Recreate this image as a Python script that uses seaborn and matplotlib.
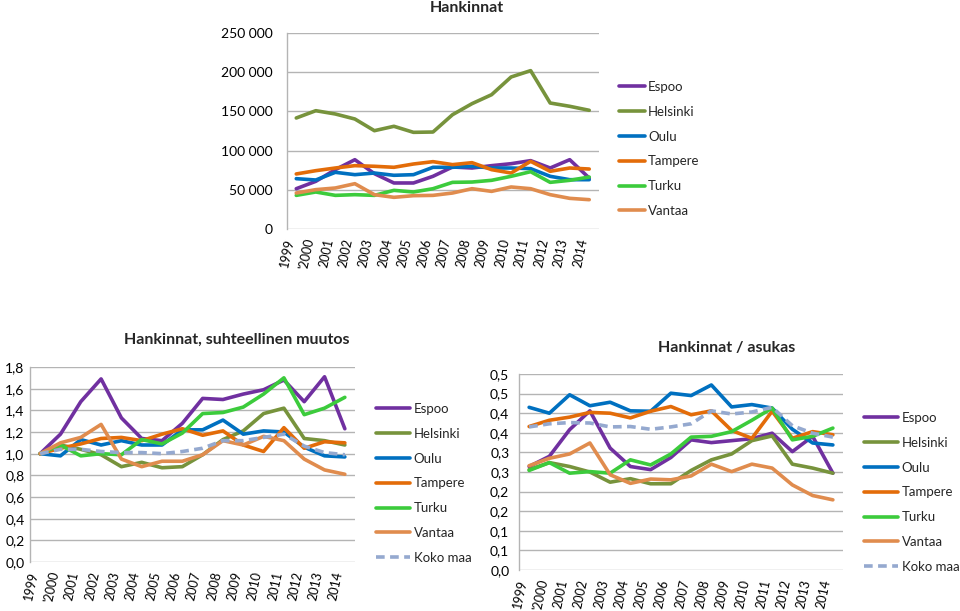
"""Hankinnat: three line charts (absolute, relative change, per resident)."""

import matplotlib

matplotlib.use("Agg")

import matplotlib.pyplot as plt
import pandas as pd
import seaborn as sns
from matplotlib.transforms import ScaledTranslation

YEARS = ["1999", "'2000", "2001", "2002", "2003", "2004", "2005", "2006",
         "2007", "2008", "2009", "2010", "2011", "2012", "2013", "2014"]

# Hankinnat (absolute)
ABS_ESPOO = [51400, 60800, 75700, 88400, 70600, 58700, 58700, 67200,
             79100, 77800, 80800, 83300, 87200, 77800, 88400, 65000]
ABS_HELSINKI = [141600, 150900, 146700, 140300, 125400, 131000, 123300, 123700,
                145800, 159900, 171300, 193900, 202000, 160700, 156500, 151400]
ABS_OULU = [64200, 62500, 72300, 69300, 71400, 68500, 69300, 78700,
            78700, 80000, 77800, 77800, 77000, 67200, 62900, 62900]
ABS_TAMPERE = [70200, 74400, 77800, 80800, 80000, 78700, 82900, 85900,
               82100, 84600, 75700, 71400, 86300, 73600, 77800, 76500]
ABS_TURKU = [42900, 47200, 42900, 43800, 42900, 49300, 47200, 51400,
             59500, 59900, 62100, 67200, 73100, 59500, 62100, 66300]
ABS_VANTAA = [45900, 50200, 52300, 57800, 43800, 40400, 42500, 42900,
              45900, 51400, 48000, 53600, 51400, 43800, 39100, 37400]

# Hankinnat, suhteellinen muutos
REL_ESPOO = [1.00, 1.18, 1.48, 1.69, 1.33, 1.14, 1.12, 1.28,
             1.51, 1.50, 1.55, 1.59, 1.68, 1.48, 1.71, 1.23]
REL_HELSINKI = [1.00, 1.08, 1.04, 0.99, 0.88, 0.92, 0.87, 0.88,
                0.99, 1.13, 1.21, 1.37, 1.42, 1.14, 1.12, 1.08]
REL_OULU = [1.00, 0.98, 1.13, 1.08, 1.12, 1.08, 1.08, 1.22,
            1.22, 1.31, 1.18, 1.21, 1.20, 1.06, 0.98, 0.97]
REL_TAMPERE = [1.00, 1.05, 1.09, 1.14, 1.15, 1.12, 1.18, 1.23,
               1.17, 1.21, 1.08, 1.02, 1.24, 1.05, 1.11, 1.10]
REL_TURKU = [1.00, 1.08, 0.98, 1.00, 0.99, 1.13, 1.09, 1.19,
             1.37, 1.38, 1.43, 1.55, 1.70, 1.36, 1.42, 1.52]
REL_VANTAA = [1.00, 1.10, 1.15, 1.27, 0.95, 0.88, 0.93, 0.93,
              0.99, 1.12, 1.08, 1.16, 1.12, 0.95, 0.85, 0.81]
REL_KOKO_MAA = [1.00, 1.04, 1.04, 1.02, 1.01, 1.01, 1.00, 1.02,
                1.05, 1.12, 1.12, 1.15, 1.18, 1.07, 1.01, 0.99]

# Hankinnat / asukas
PER_ESPOO = [0.264, 0.290, 0.358, 0.406, 0.311, 0.264, 0.256, 0.287,
             0.332, 0.325, 0.330, 0.335, 0.349, 0.302, 0.341, 0.247]
PER_HELSINKI = [0.256, 0.274, 0.264, 0.250, 0.224, 0.233, 0.220, 0.220,
                0.254, 0.281, 0.296, 0.330, 0.342, 0.270, 0.260, 0.247]
PER_OULU = [0.415, 0.400, 0.447, 0.419, 0.428, 0.406, 0.405, 0.451,
            0.445, 0.472, 0.416, 0.422, 0.413, 0.359, 0.324, 0.319]
PER_TAMPERE = [0.366, 0.382, 0.390, 0.402, 0.400, 0.388, 0.405, 0.417,
               0.396, 0.406, 0.356, 0.336, 0.405, 0.336, 0.353, 0.345]
PER_TURKU = [0.254, 0.274, 0.247, 0.251, 0.247, 0.281, 0.268, 0.296,
             0.339, 0.341, 0.353, 0.382, 0.413, 0.332, 0.341, 0.362]
PER_VANTAA = [0.266, 0.285, 0.296, 0.324, 0.243, 0.221, 0.232, 0.230,
              0.240, 0.270, 0.251, 0.270, 0.260, 0.217, 0.190, 0.179]
PER_KOKO_MAA = [0.365, 0.373, 0.376, 0.375, 0.365, 0.366, 0.359, 0.365,
                0.373, 0.406, 0.398, 0.403, 0.415, 0.368, 0.349, 0.339]

ABS_TICKS = [0, 50000, 100000, 150000, 200000, 250000]
ABS_TICK_LABELS = ["0", "50 000", "100 000", "150 000", "200 000", "250 000"]
REL_TICKS = [0.0, 0.2, 0.4, 0.6, 0.8, 1.0, 1.2, 1.4, 1.6, 1.8]
REL_TICK_LABELS = ["0,0", "0,2", "0,4", "0,6", "0,8", "1,0", "1,2", "1,4", "1,6", "1,8"]
PER_TICKS = [0.0, 0.05, 0.1, 0.15, 0.2, 0.25, 0.3, 0.35, 0.4, 0.45, 0.5]
PER_TICK_LABELS = ["0,0", "0,1", "0,1", "0,2", "0,2", "0,3", "0,3", "0,4", "0,4", "0,5", "0,5"]

COLORS = {
    "Espoo": "#7030A0",
    "Helsinki": "#77933C",
    "Oulu": "#0070C0",
    "Tampere": "#E36C09",
    "Turku": "#3CCB3C",
    "Vantaa": "#E08C4E",
    "Koko maa": "#95A9CF",
}

W, H = 960, 611
GRID = "#B4B4B4"


def _rect(left: float, top: float, right: float, bottom: float) -> list[float]:
    return [left / W, 1 - bottom / H, (right - left) / W, (bottom - top) / H]


def _plot_panel(fig, rect, series: dict[str, list[float]], ticks, tick_labels,
                title: str, title_xy, legend_xy, handlelength: float,
                ypad: float) -> None:
    ax = fig.add_axes(_rect(*rect))
    frame = pd.DataFrame(
        [(name, idx, val) for name, vals in series.items() for idx, val in enumerate(vals)],
        columns=["kunta", "vuosi", "arvo"],
    )
    for name in series:
        sub = frame[frame["kunta"] == name]
        sns.lineplot(
            data=sub, x="vuosi", y="arvo", color=COLORS[name],
            linewidth=2.6, label=name, ax=ax,
            linestyle=(0, (2.4, 1.5)) if name == "Koko maa" else "-",
        )
    ax.set_xlim(-0.5, len(YEARS) - 0.5)
    ax.set_ylim(ticks[0], ticks[-1])
    ax.set_xticks(range(len(YEARS)))
    ax.set_xticklabels(YEARS, rotation=78, ha="right", va="top", fontsize=9)
    # nudge the rotated year labels so their top end sits on the tick
    shift = ScaledTranslation(3 / 72, 0, fig.dpi_scale_trans)
    for label in ax.get_xticklabels():
        label.set_transform(label.get_transform() + shift)
    ax.set_yticks(ticks)
    ax.set_yticklabels(tick_labels)
    ax.set_xlabel("")
    ax.set_ylabel("")
    ax.grid(axis="y", color=GRID, linewidth=1.0)
    ax.grid(axis="x", visible=False)
    for side in ("top", "right", "bottom"):
        ax.spines[side].set_visible(False)
    ax.spines["left"].set_color(GRID)
    ax.spines["left"].set_linewidth(1.0)
    ax.tick_params(axis="both", length=0, colors="black")
    ax.tick_params(axis="y", pad=ypad, labelsize=10)
    ax.tick_params(axis="x", pad=6)
    ax.set_facecolor("white")

    ax.legend(
        loc="upper left",
        bbox_to_anchor=(legend_xy[0] / W, 1 - legend_xy[1] / H),
        bbox_transform=fig.transFigure,
        frameon=False,
        fontsize=9.5,
        handlelength=handlelength,
        handletextpad=0.25,
        labelspacing=0.97,
        borderpad=0,
        borderaxespad=0,
    )
    fig.text(title_xy[0] / W, 1 - title_xy[1] / H, title, ha="center", va="center",
             fontsize=11.5, fontweight="bold")


sns.set_theme(style="whitegrid")
plt.rcParams["font.family"] = ["Lato", "DejaVu Sans"]

fig = plt.figure(figsize=(W / 100, H / 100), dpi=100)
fig.patch.set_facecolor("white")

_plot_panel(
    fig, (286.5, 33, 599, 229),
    {"Espoo": ABS_ESPOO, "Helsinki": ABS_HELSINKI, "Oulu": ABS_OULU,
     "Tampere": ABS_TAMPERE, "Turku": ABS_TURKU, "Vantaa": ABS_VANTAA},
    ABS_TICKS, ABS_TICK_LABELS, "Hankinnat", (467, 8), (619, 81), 1.95, 10,
)
_plot_panel(
    fig, (30, 367, 355, 562),
    {"Espoo": REL_ESPOO, "Helsinki": REL_HELSINKI, "Oulu": REL_OULU,
     "Tampere": REL_TAMPERE, "Turku": REL_TURKU, "Vantaa": REL_VANTAA,
     "Koko maa": REL_KOKO_MAA},
    REL_TICKS, REL_TICK_LABELS, "Hankinnat, suhteellinen muutos", (237, 340),
    (376, 403), 2.6, 4,
)
_plot_panel(
    fig, (519, 374, 843, 570),
    {"Espoo": PER_ESPOO, "Helsinki": PER_HELSINKI, "Oulu": PER_OULU,
     "Tampere": PER_TAMPERE, "Turku": PER_TURKU, "Vantaa": PER_VANTAA,
     "Koko maa": PER_KOKO_MAA},
    PER_TICKS, PER_TICK_LABELS, "Hankinnat / asukas", (727, 348),
    (864, 412), 2.6, 7,
)

fig.savefig("out.png", dpi=100, facecolor="white")
plt.close(fig)
